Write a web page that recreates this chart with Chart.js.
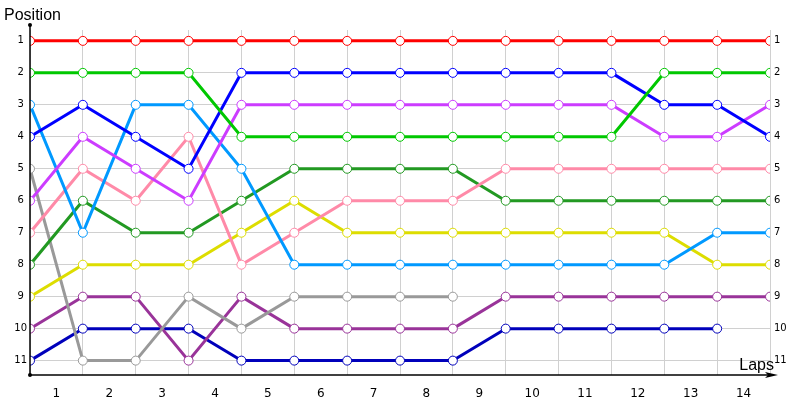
<!DOCTYPE html>
<html>
<head>
<meta charset="utf-8">
<script src="https://cdn.jsdelivr.net/npm/chart.js@4.4.1/dist/chart.umd.min.js"></script>
<style>
  html, body { margin: 0; padding: 0; background: #fff; }
  #wrap { width: 800px; height: 400px; }
</style>
</head>
<body>
<div id="wrap"><canvas id="lapChart"></canvas></div>
<script>
// lap labels shown between the gridlines
const lapLabels = ["1", "2", "3", "4", "5", "6", "7", "8", "9", "10", "11", "12", "13", "14"];
const positionTicks = [1, 2, 3, 4, 5, 6, 7, 8, 9, 10, 11];

// position after each lap boundary (index 0 = start)
const redCar       = [1, 1, 1, 1, 1, 1, 1, 1, 1, 1, 1, 1, 1, 1, 1];
const greenCar     = [2, 2, 2, 2, 4, 4, 4, 4, 4, 4, 4, 4, 2, 2, 2];
const blueCar      = [4, 3, 4, 5, 2, 2, 2, 2, 2, 2, 2, 2, 3, 3, 4];
const skyCar       = [3, 7, 3, 3, 5, 8, 8, 8, 8, 8, 8, 8, 8, 7, 7];
const violetCar    = [6, 4, 5, 6, 3, 3, 3, 3, 3, 3, 3, 3, 4, 4, 3];
const pinkCar      = [7, 5, 6, 4, 8, 7, 6, 6, 6, 5, 5, 5, 5, 5, 5];
const darkGreenCar = [8, 6, 7, 7, 6, 5, 5, 5, 5, 6, 6, 6, 6, 6, 6];
const yellowCar    = [9, 8, 8, 8, 7, 6, 7, 7, 7, 7, 7, 7, 7, 8, 8];
const plumCar      = [10, 9, 9, 11, 9, 10, 10, 10, 10, 9, 9, 9, 9, 9, 9];
const navyCar      = [11, 10, 10, 10, 11, 11, 11, 11, 11, 10, 10, 10, 10, 10];
const greyCar      = [5, 11, 11, 9, 10, 9, 9, 9, 9];

const series = [
    { data: redCar, color: "#ff0000" },
    { data: greenCar, color: "#00c800" },
    { data: blueCar, color: "#0000ff" },
    { data: violetCar, color: "#cc3cff" },
    { data: skyCar, color: "#0099ff" },
    { data: pinkCar, color: "#ff8aa8" },
    { data: darkGreenCar, color: "#229922" },
    { data: yellowCar, color: "#dddd00" },
    { data: greyCar, color: "#999999" },
    { data: plumCar, color: "#993399" },
    { data: navyCar, color: "#0000bb" }
];

const axisDecor = {
    id: "axisDecor",
    afterDraw(chart) {
        const c = chart.ctx;
        const a = chart.chartArea;
        c.save();
        c.strokeStyle = "#000";
        c.fillStyle = "#000";
        c.lineWidth = 1.5;
        // y axis with dot on top
        c.beginPath();
        c.moveTo(a.left, a.bottom);
        c.lineTo(a.left, 25);
        c.stroke();
        c.beginPath();
        c.arc(a.left, 25, 2, 0, Math.PI * 2);
        c.fill();
        c.beginPath();
        c.arc(a.left, a.bottom, 2, 0, Math.PI * 2);
        c.fill();
        // x axis with arrow
        c.beginPath();
        c.moveTo(a.left, a.bottom);
        c.lineTo(770, a.bottom);
        c.stroke();
        c.beginPath();
        c.moveTo(778, a.bottom);
        c.lineTo(765, a.bottom - 3);
        c.lineTo(768, a.bottom);
        c.lineTo(765, a.bottom + 3);
        c.closePath();
        c.fill();
        // axis titles
        c.font = "16px 'Liberation Sans'";
        c.textBaseline = "alphabetic";
        c.textAlign = "left";
        c.fillText("Position", 4, 20);
        c.textAlign = "right";
        c.fillText("Laps", 774, 370);
        c.restore();
    }
};

const ctx = document.getElementById("lapChart").getContext("2d");

const lapChart = new Chart(ctx, {
    type: "line",
    data: {
        datasets: series.map(s => ({
            data: s.data.map((v, i) => ({ x: i, y: v })),
            borderColor: s.color,
            backgroundColor: "#ffffff",
            borderWidth: 3,
            pointRadius: 4.5,
            pointBorderWidth: 1,
            pointBorderColor: s.color,
            pointBackgroundColor: "#ffffff",
            tension: 0
        }))
    },
    options: {
        responsive: true,
        maintainAspectRatio: false,
        animation: false,
        layout: { padding: { top: 30, left: 0, right: 0, bottom: 0 } },
        scales: {
            x: {
                type: "linear",
                position: "bottom",
                min: 0,
                max: 14,
                afterBuildTicks: (scale) => {
                    scale.ticks = lapLabels.map((l, i) => ({ value: i + 0.5 }));
                },
                afterFit: (scale) => { scale.height = 25; },
                ticks: {
                    color: "#000",
                    padding: 4,
                    font: { family: "DejaVu Sans", size: 12 },
                    callback: (value, index) => lapLabels[index]
                },
                grid: { display: false },
                border: { display: false }
            },
            xGrid: {
                type: "linear",
                position: "bottom",
                min: 0,
                max: 14,
                afterBuildTicks: (scale) => {
                    scale.ticks = lapLabels.concat([""]).map((l, i) => ({ value: i }));
                },
                afterFit: (scale) => { scale.height = 0; },
                ticks: { display: false },
                grid: { color: "#d0d0d0", lineWidth: 1, drawTicks: false },
                border: { display: false }
            },
            y: {
                type: "linear",
                position: "left",
                reverse: true,
                min: 0.66,
                max: 11.45,
                afterBuildTicks: (scale) => {
                    scale.ticks = positionTicks.map(v => ({ value: v }));
                },
                afterFit: (scale) => { scale.width = 30; },
                ticks: {
                    color: "#000",
                    crossAlign: "center",
                    font: { family: "DejaVu Sans", size: 10 }
                },
                grid: { color: "#d0d0d0", lineWidth: 1, drawTicks: false },
                border: { display: false }
            },
            yRight: {
                type: "linear",
                position: "right",
                reverse: true,
                min: 0.66,
                max: 11.45,
                afterBuildTicks: (scale) => {
                    scale.ticks = positionTicks.map(v => ({ value: v }));
                },
                afterFit: (scale) => { scale.width = 30; },
                ticks: {
                    color: "#000",
                    padding: 4,
                    font: { family: "DejaVu Sans", size: 10 }
                },
                grid: { display: false, drawTicks: false },
                border: { display: false }
            }
        },
        plugins: {
            legend: { display: false },
            tooltip: { enabled: false }
        }
    },
    plugins: [axisDecor]
});
</script>
</body>
</html>
